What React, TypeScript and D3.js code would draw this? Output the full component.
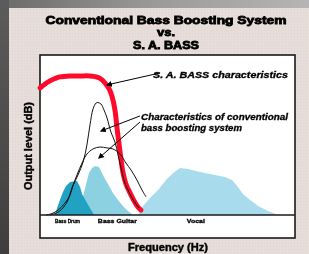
import React from "react";
import * as d3 from "d3";

const W = 309;
const H = 254;

// Titles & labels
const titleLines = ["Conventional Bass Boosting System", "vs.", "S. A. BASS"];
const yAxisLabel = "Output level (dB)";
const xAxisLabel = "Frequency (Hz)";
const bandLabels = ["Bass Drum", "Bass Guitar", "Vocal"];
const bandLabelX = [5.9, 22.7, 57.6];
const annotSA = "S. A. BASS characteristics";
const annotConv = ["Characteristics of conventional", "bass boosting system"];

// Series (frequency units 0-100, level units 0-100)
const saBass: [number, number][] = [
  [0, 79.4], [2, 81.9], [3.9, 83.8], [5.9, 85.3], [7.8, 86.3], [11.8, 86.9],
  [15.7, 86.9], [19.6, 86.9], [22, 86.3], [23.9, 85], [25.5, 82.5], [27.1, 78.8],
  [28.2, 74.4], [29.4, 65.6], [30.2, 54.4], [31.4, 39.4], [32.5, 26.9], [33.7, 19.4],
  [35.3, 13.8], [36.9, 8.8], [38.4, 5], [39.6, 3.1],
];
const convSharp: [number, number][] = [
  [2.4, 0], [4.7, 0.9], [7.1, 3.1], [9.8, 7.5], [11.8, 12.5], [12.9, 18.1],
  [14.9, 25], [16.9, 33.1], [18.4, 43.8], [19.6, 56.3], [20.8, 66.3], [22, 70],
  [22.7, 70.3], [23.9, 69.4], [25.1, 65.6], [26.3, 60.6], [27.8, 51.9], [29.4, 45.6],
  [30.6, 37.5], [31.8, 29.4], [32.9, 21.9], [34.5, 15.6], [36.1, 10.6], [37.6, 6.9],
  [38.8, 4.4],
];
const convBroad: [number, number][] = [
  [3.9, 0], [5.9, 0.9], [7.8, 2.5], [10.6, 8.1], [12.5, 16.9], [14.5, 25],
  [16.5, 32.5], [18.4, 38.1], [20.8, 41.3], [23.5, 42.5], [26.3, 41.9], [28.6, 41.3],
  [31.4, 38.1], [33.7, 32.5], [35.7, 28.1], [38, 21.9], [40, 15.6], [41.6, 11.3],
];
const bassDrum: [number, number][] = [
  [5.9, 0], [6.7, 4.4], [7.8, 9.4], [9, 14.4], [10.2, 18.1], [11.8, 20.6],
  [14.5, 21.3], [15.7, 17.5], [16.5, 13.1], [18, 8.8], [19.6, 4.4], [21.2, 0],
];
const bassGuitar: [number, number][] = [
  [14.9, 0], [17.3, 14.4], [18.4, 21.3], [19.2, 26.3], [20.4, 29.4], [21.6, 30.6],
  [23.1, 30], [24.3, 26.3], [25.5, 22.5], [27.1, 18.1], [28.6, 13.8], [30.6, 9.4],
  [32.5, 5.6], [34.5, 2.5], [36.5, 0],
];
const vocal: [number, number][] = [
  [38.4, 0], [40.4, 5.6], [43.1, 10.6], [46.3, 15.6], [49.4, 21.9], [52.2, 26.3],
  [54.9, 29.4], [58, 28.8], [61.2, 27.5], [64.7, 26.3], [68.6, 25], [72.5, 23.8],
  [75.3, 21.9], [77.3, 18.1], [79.6, 13.1], [82.4, 9.4], [85.5, 5.6], [89.4, 2.5],
  [93.3, 0],
];
// Arrows [from, to]
const arrowSA: [number, number][] = [[47.1, 88.8], [26.3, 81.3]];
const arrowConv1: [number, number][] = [[39.2, 61.9], [23.9, 52.5]];
const arrowConv2: [number, number][] = [[39.2, 58.1], [23.1, 35.6]];

export default function App() {
  const x = d3.scaleLinear().domain([0, 100]).range([40, 295]);
  const y = d3.scaleLinear().domain([0, 100]).range([215, 55]);

  const line = d3
    .line<[number, number]>()
    .x((d) => x(d[0]))
    .y((d) => y(d[1]))
    .curve(d3.curveCatmullRom.alpha(0.5));
  const area = d3
    .area<[number, number]>()
    .x((d) => x(d[0]))
    .y0(y(0))
    .y1((d) => y(d[1]))
    .curve(d3.curveLinear);

  const boxLeft = x(0);
  const boxRight = x(100);
  const boxTop = 55;
  const boxBottom = 238;

  const arrowLine = (a: [number, number][]) => (
    <line
      x1={x(a[0][0])}
      y1={y(a[0][1])}
      x2={x(a[1][0])}
      y2={y(a[1][1])}
      stroke="#000"
      strokeWidth={1}
      markerEnd="url(#arrowhead)"
    />
  );

  const boldFont = "'Liberation Sans', Arial, sans-serif";

  return (
    <svg
      width={W}
      height={H}
      style={{ position: "fixed", left: 0, top: 0, display: "block" }}
    >
      <defs>
        <linearGradient id="topStrip" x1="0" x2="1" y1="0" y2="0">
          <stop offset="0" stopColor="#6a6a6a" />
          <stop offset="0.5" stopColor="#9a9a9a" />
          <stop offset="1" stopColor="#b5b5b5" />
        </linearGradient>
        <linearGradient id="leftStrip" x1="0" x2="0" y1="0" y2="1">
          <stop offset="0" stopColor="#5c5c5c" />
          <stop offset="1" stopColor="#3e3e3e" />
        </linearGradient>
        <pattern id="beige" width="3" height="3" patternUnits="userSpaceOnUse">
          <rect width="3" height="3" fill="#e7dcd9" />
          <rect x="0" y="0" width="1" height="1" fill="#d9d6dc" />
          <rect x="1.5" y="1.5" width="1" height="1" fill="#e9e6d8" />
        </pattern>
        <marker
          id="arrowhead"
          viewBox="0 0 10 10"
          refX="8"
          refY="5"
          markerWidth="6"
          markerHeight="6"
          markerUnits="userSpaceOnUse"
          orient="auto"
        >
          <path d="M0,0 L10,5 L0,10 z" fill="#000" />
        </marker>
      </defs>

      {/* background */}
      <rect x={0} y={0} width={W} height={H} fill="url(#beige)" />
      <rect x={0} y={0} width={W} height={8} fill="url(#topStrip)" />
      <rect x={0} y={0} width={9} height={H} fill="url(#leftStrip)" />

      {/* title */}
      {titleLines.map((t, i) => (
        <text
          key={t}
          x={166}
          y={[24, 36, 49][i]}
          textAnchor="middle"
          fontFamily={boldFont}
          fontWeight="bold"
          fontSize={11}
          stroke="#000"
          strokeWidth={0.8}
          textLength={[241, 18, 66][i]}
          lengthAdjust="spacingAndGlyphs"
        >
          {t}
        </text>
      ))}

      {/* plot box */}
      <rect
        x={boxLeft}
        y={boxTop}
        width={boxRight - boxLeft}
        height={boxBottom - boxTop}
        fill="#fff"
        stroke="#1a1a1a"
        strokeWidth={1.6}
      />

      {/* bands */}
      <path d={area(vocal) ?? ""} fill="#a8dcec" />
      <path d={area(bassGuitar) ?? ""} fill="#8bd1e2" />
      <path d={area(bassDrum) ?? ""} fill="#22a2c2" />

      {/* S.A. BASS curve */}
      <path
        d={line(saBass) ?? ""}
        fill="none"
        stroke="#ff0a2a"
        strokeWidth={5}
        strokeLinecap="round"
      />

      {/* conventional curves */}
      <path d={line(convSharp) ?? ""} fill="none" stroke="#111" strokeWidth={1} />
      <path d={line(convBroad) ?? ""} fill="none" stroke="#111" strokeWidth={1} />

      {/* baseline */}
      <line
        x1={boxLeft}
        x2={boxRight}
        y1={y(0)}
        y2={y(0)}
        stroke="#1a1a1a"
        strokeWidth={1.5}
      />

      {/* band labels */}
      {bandLabels.map((t, i) => (
        <text
          key={t}
          x={x(bandLabelX[i])}
          y={223}
          fontFamily={boldFont}
          fontWeight="bold"
          fontSize={6}
          stroke="#000"
          strokeWidth={0.3}
          textLength={[25, 39, 18][i]}
          lengthAdjust="spacingAndGlyphs"
        >
          {t}
        </text>
      ))}

      {/* arrows */}
      {arrowLine(arrowSA)}
      {arrowLine(arrowConv1)}
      {arrowLine(arrowConv2)}

      {/* annotations */}
      <text
        x={153}
        y={78}
        fontFamily={boldFont}
        fontWeight="bold"
        fontStyle="italic"
        fontSize={9}
        stroke="#000"
        strokeWidth={0.3}
        textLength={135}
        lengthAdjust="spacingAndGlyphs"
      >
        {annotSA}
      </text>
      {annotConv.map((t, i) => (
        <text
          key={t}
          x={141}
          y={[120, 131][i]}
          fontFamily={boldFont}
          fontWeight="bold"
          fontStyle="italic"
          fontSize={9}
          stroke="#000"
          strokeWidth={0.3}
          textLength={[147, 101][i]}
          lengthAdjust="spacingAndGlyphs"
        >
          {t}
        </text>
      ))}

      {/* axis labels */}
      <text
        transform="translate(32,146) rotate(-90)"
        textAnchor="middle"
        fontFamily={boldFont}
        fontWeight="bold"
        fontSize={10}
        stroke="#000"
        strokeWidth={0.4}
        textLength={88}
        lengthAdjust="spacingAndGlyphs"
      >
        {yAxisLabel}
      </text>
      <text
        x={168}
        y={251}
        textAnchor="middle"
        fontFamily={boldFont}
        fontWeight="bold"
        fontSize={10}
        stroke="#000"
        strokeWidth={0.4}
        textLength={80}
        lengthAdjust="spacingAndGlyphs"
      >
        {xAxisLabel}
      </text>
    </svg>
  );
}
